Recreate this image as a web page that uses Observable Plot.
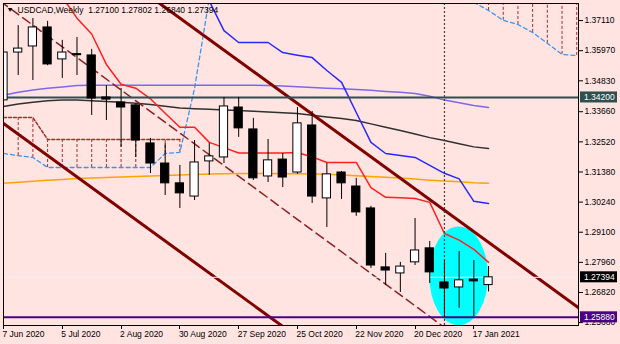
<!DOCTYPE html>
<html><head><meta charset="utf-8">
<script src="https://cdn.jsdelivr.net/npm/d3@7"></script>
<script src="https://cdn.jsdelivr.net/npm/@observablehq/plot@0.6"></script>
<style>html,body{margin:0;padding:0;background:#FFE4E1;}</style>
</head><body><div id="chart"></div>
<script>
// ---- data (weekly candles, index 0 = week of 7 Jun 2020) ----
const weekIdx = d3.range(34);
const open  = [1.3409,1.3590,1.3613,1.3685,1.3564,1.3584,1.3579,1.3420,1.3401,1.3390,1.3246,1.3170,1.3095,1.3045,1.3178,1.3193,1.3382,1.3299,1.3121,1.3185,1.3136,1.3314,1.3038,1.3136,1.3083,1.3000,1.2777,1.2754,1.2796,1.2849,1.2720,1.2701,1.2731,1.27100];
const high  = [1.3673,1.3692,1.3719,1.3708,1.3636,1.3647,1.3602,1.3465,1.3454,1.3394,1.3265,1.3246,1.3163,1.3257,1.3246,1.3420,1.3420,1.3341,1.3261,1.3208,1.3382,1.3367,1.3170,1.3140,1.3114,1.3008,1.2830,1.2796,1.2962,1.2875,1.2803,1.2837,1.2803,1.27802];
const low   = [1.3400,1.3503,1.3484,1.3540,1.3492,1.3503,1.3352,1.3333,1.3231,1.3193,1.3132,1.3049,1.3000,1.3030,1.3125,1.3170,1.3269,1.3106,1.3098,1.3079,1.3129,1.3019,1.2928,1.3034,1.2970,1.2773,1.2709,1.2682,1.2784,1.2716,1.2588,1.2622,1.2591,1.26840];
const close = [1.3590,1.3605,1.3685,1.3545,1.3590,1.3580,1.3416,1.3412,1.3382,1.3257,1.3170,1.3095,1.3057,1.3174,1.3197,1.3386,1.3303,1.3114,1.3182,1.3117,1.3322,1.3045,1.3129,1.3095,1.2985,1.2784,1.2765,1.2780,1.2841,1.2758,1.2697,1.2728,1.2724,1.27394];

const tenkan = [null,null,null,null,1.3800,1.3720,1.3660,1.3545,1.3470,1.3455,1.3415,1.3360,1.3307,1.3307,1.3250,1.3230,1.3210,1.3210,1.3210,1.3210,1.3212,1.3195,1.3174,1.3174,1.3174,1.3079,1.3042,1.3040,1.3038,1.3023,1.2905,1.2880,1.2845,1.2796];
const kijun  = [null,null,null,null,null,null,null,null,null,null,null,null,null,1.3950,1.3785,1.3673,1.3628,1.3628,1.3628,1.3590,1.3580,1.3571,1.3522,1.3477,1.3363,1.3250,1.3208,1.3200,1.3193,1.3163,1.3133,1.3112,1.3027,1.3019];
const maPurple = [1.3428,1.3440,1.3448,1.3455,1.3460,1.3465,1.3466,1.3466,1.3466,1.3466,1.3466,1.3466,1.3466,1.3466,1.3466,1.3466,1.3466,1.3466,1.3465,1.3463,1.3461,1.3458,1.3455,1.3453,1.3450,1.3447,1.3443,1.3440,1.3435,1.3425,1.3410,1.3400,1.3390,1.3382];
const maBlack  = [1.3386,1.3395,1.3402,1.3408,1.3410,1.3410,1.3408,1.3405,1.3402,1.3398,1.3393,1.3387,1.3380,1.3377,1.3375,1.3373,1.3371,1.3368,1.3365,1.3362,1.3359,1.3353,1.3346,1.3340,1.3333,1.3320,1.3307,1.3295,1.3282,1.3268,1.3257,1.3245,1.3233,1.3227];
const maOrange = [1.3095,1.3099,1.3103,1.3107,1.3110,1.3113,1.3115,1.3117,1.3119,1.3121,1.3123,1.3125,1.3127,1.3128,1.3130,1.3131,1.3132,1.3132,1.3132,1.3131,1.3131,1.3130,1.3129,1.3127,1.3124,1.3121,1.3118,1.3115,1.3111,1.3107,1.3104,1.3101,1.3097,1.3095];

// Ichimoku cloud spans (index 0..39, shifted forward)
const N = null;
const spanA = [1.3208,1.3200,1.3193,1.3155,1.3155,1.3155,1.3155,1.3155,1.3155,1.3155,1.3155,1.3208,1.3212,1.3455,1.3795,
  N,N,N,N,N,N,N,N,N,N,N,N,N,N,N,N,N,
  1.3780,1.3749,1.3712,1.3696,1.3666,1.3625,1.3583,1.3579];
const spanB = [1.3344,1.3344,1.3344,1.3261,1.3261,1.3261,1.3261,1.3261,1.3261,1.3261,1.3261,1.3261,1.3261,
  N,N,N,N,N,N,N,N,N,N,N,N,N,N,N,N,N,N,N,N,
  1.3850,1.3850,1.3850,1.3850,1.3850,1.3850,1.3850];

// trend channel anchors (week index, price)
const upperChannel  = [{i:10, p:1.3801},{i:40, p:1.2589}];
const lowerChannel  = [{i:-1, p:1.3362},{i:20, p:1.2513}];
const middleChannel = [{i:-1, p:1.3816},{i:31, p:1.2509}];

const levelTeal = 1.34200, levelPurple = 1.25880, bidPrice = 1.27394;
const yearLine = 30;
const highlight = {i:31, p:1.2743, ri:2.0, rp:0.0187};

const xTicks = [0,4,8,12,16,20,24,28,32];
const xLabels = ["7 Jun 2020","5 Jul 2020","2 Aug 2020","30 Aug 2020","27 Sep 2020","25 Oct 2020","22 Nov 2020","20 Dec 2020","17 Jan 2021"];
const yTicks = [1.3711,1.3597,1.3483,1.3366,1.3252,1.3138,1.3024,1.2910,1.2796,1.2682,1.2568];
const title = "USDCAD,Weekly\u00a0\u00a01.27100 1.27802 1.26840 1.27394";
const tags = [
  {p: levelTeal, label: "1.34200", fill: "#2F4F4F"},
  {p: bidPrice, label: "1.27394", fill: "#000000"},
  {p: levelPurple, label: "1.25880", fill: "#4B0082"}
];

// ---- build ----
const candles = weekIdx.map(i => ({i, o: open[i], h: high[i], l: low[i], c: close[i]}));
const upC = candles.filter(d => d.c >= d.o), dnC = candles.filter(d => d.c < d.o);
const ind = weekIdx.map(i => ({i, t: tenkan[i], k: kijun[i], m1: maPurple[i], m2: maBlack[i], m3: maOrange[i]}));
const cloud = d3.range(spanA.length).map(i => ({i, a: spanA[i], b: spanB[i]}));
const hatch = cloud.filter(d => d.a != null && d.b != null);
const xt = xTicks.map((i, k) => ({i, label: xLabels[k]}));

const yBot = 1.2557, yTop = 1.37756;
const FONT = "'Liberation Sans', Arial, sans-serif";

function ellipseMark(index, scales, values, dims) {
  const g = d3.create("svg:g");
  const cx = scales.x(highlight.i), cy = scales.y(highlight.p);
  const rx = Math.abs(scales.x(highlight.i + highlight.ri) - cx);
  const ry = Math.abs(scales.y(highlight.p + highlight.rp) - cy);
  g.append("clipPath").attr("id", "ellclip").append("rect")
    .attr("x", dims.marginLeft).attr("y", dims.marginTop)
    .attr("width", dims.width - dims.marginLeft - dims.marginRight)
    .attr("height", dims.height - dims.marginTop - dims.marginBottom);
  g.append("ellipse").attr("cx", cx).attr("cy", cy).attr("rx", rx).attr("ry", ry)
    .attr("fill", "#00FFFF").attr("clip-path", "url(#ellclip)");
  return g.node();
}
function xTickMark(index, scales, values, dims) {
  const g = d3.create("svg:g");
  const y0 = dims.height - dims.marginBottom;
  xTicks.forEach(t => {
    const x = Math.round(scales.x(t)) + 0.5;
    g.append("line").attr("x1", x).attr("x2", x).attr("y1", y0).attr("y2", y0 + 4).attr("stroke", "black");
  });
  return g.node();
}
function tagMark(index, scales, values, dims) {
  const g = d3.create("svg:g").attr("font-family", FONT).attr("font-size", "8.5px").attr("text-anchor", "start");
  const x0 = dims.width - dims.marginRight + 2;
  tags.forEach(t => {
    const y = scales.y(t.p);
    g.append("rect").attr("x", x0).attr("y", y - 5.5).attr("width", 37).attr("height", 11).attr("fill", t.fill);
    g.append("text").attr("x", x0 + 4).attr("y", y).attr("dy", "0.34em").attr("text-anchor", "start").attr("fill", "white").text(t.label);
  });
  return g.node();
}

const chart = Plot.plot({
  width: 620, height: 344,
  marginTop: 3, marginLeft: 3, marginRight: 42, marginBottom: 19,
  style: {background: "#FFE4E1", fontFamily: FONT, fontSize: "8.5px", color: "black", overflow: "visible"},
  x: {domain: [0, 39.12], axis: null},
  y: {domain: [yBot, yTop], axis: "right", ticks: yTicks, tickFormat: d => d.toFixed(5), tickSize: 4, tickPadding: 2, label: null},
  marks: [
    ellipseMark,
    Plot.ruleX(hatch, {x: "i", y1: "a", y2: "b", stroke: "#A0302A", strokeDasharray: "3,2", clip: true}),
    Plot.line(cloud, {x: "i", y: "b", stroke: "#A0302A", strokeDasharray: "3,2", clip: true}),
    Plot.line(cloud, {x: "i", y: "a", stroke: "#3A96F0", strokeWidth: 1.3, strokeDasharray: "4,3", clip: true}),
    Plot.line(ind, {x: "i", y: "m3", stroke: "#FFA500", clip: true}),
    Plot.line(ind, {x: "i", y: "m2", stroke: "#303030", clip: true}),
    Plot.line(ind, {x: "i", y: "m1", stroke: "#7B68EE", clip: true}),
    Plot.line(ind, {x: "i", y: "k", stroke: "#2828FF", clip: true}),
    Plot.line(ind, {x: "i", y: "t", stroke: "#FF2020", clip: true}),
    Plot.line(middleChannel, {x: "i", y: "p", stroke: "#8B2020", strokeDasharray: "9,5", clip: true}),
    Plot.line(upperChannel, {x: "i", y: "p", stroke: "#800000", strokeWidth: 3, clip: true}),
    Plot.line(lowerChannel, {x: "i", y: "p", stroke: "#800000", strokeWidth: 3, clip: true}),
    Plot.ruleY([bidPrice], {stroke: "#F2F0F8", strokeWidth: 1}),
    Plot.ruleY([levelTeal], {stroke: "#2F4F4F", strokeWidth: 2}),
    Plot.ruleY([levelPurple], {stroke: "#4B0082", strokeWidth: 2}),
    Plot.ruleX([yearLine], {stroke: "#404040", strokeWidth: 1.2, strokeDasharray: "2,2"}),
    Plot.ruleX(candles, {x: "i", y1: "l", y2: "h", stroke: "black", clip: true}),
    Plot.rect(upC, {x1: d => d.i - 0.28, x2: d => d.i + 0.28, y1: "o", y2: "c", fill: "white", stroke: "black", clip: true}),
    Plot.rect(dnC, {x1: d => d.i - 0.28, x2: d => d.i + 0.28, y1: "o", y2: "c", fill: "black", stroke: "black", clip: true}),
    Plot.frame({stroke: "black"}),
    xTickMark,
    Plot.text(xt, {x: "i", y: yBot, text: "label", textAnchor: "start", lineAnchor: "top", dx: -1, dy: 5, fill: "black"}),
    tagMark,
    Plot.text(["\u25BC"], {text: d => d, frameAnchor: "top-left", dx: 3, dy: 4, lineAnchor: "top", textAnchor: "start", fontSize: 7, fill: "black"}),
    Plot.text([title], {text: d => d, frameAnchor: "top-left", dx: 14, dy: 3, lineAnchor: "top", textAnchor: "start", fill: "black"})
  ]
});
document.getElementById("chart").appendChild(chart);
</script>
</body></html>
